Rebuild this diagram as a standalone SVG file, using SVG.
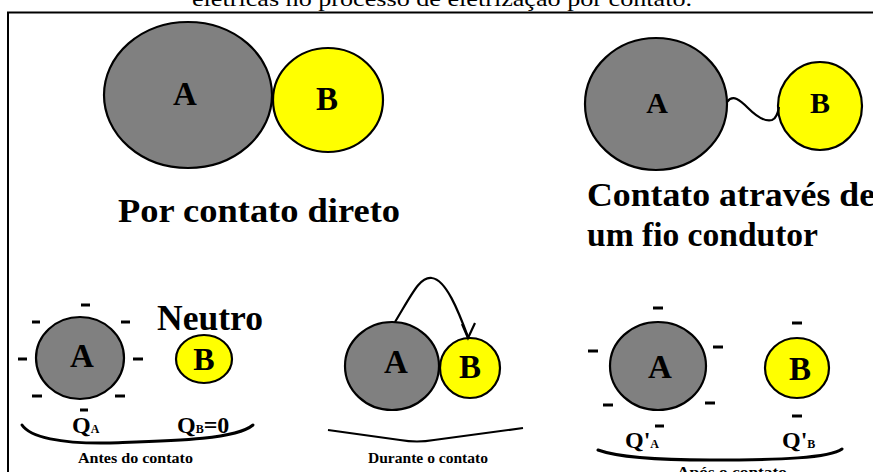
<svg xmlns="http://www.w3.org/2000/svg" width="873" height="472" viewBox="0 0 873 472">
<style>
.a{fill:#808080;stroke:#000;stroke-width:2.2}
.b{fill:#ffff00;stroke:#000;stroke-width:2.2}
.t{font-family:"Liberation Serif","Times New Roman",serif;font-weight:bold;fill:#000}
.m{stroke:#000;stroke-width:3;fill:none}
.c{fill:none;stroke:#000;stroke-width:3;stroke-linecap:round}
</style>
<rect width="873" height="472" fill="#fff"/>
<text x="192" y="6" font-family="Liberation Serif, serif" font-size="22" textLength="500" lengthAdjust="spacingAndGlyphs">elétricas no processo de eletrização por contato.</text>
<path d="M8,472 V12.5 H873" fill="none" stroke="#000" stroke-width="2"/>

<g id="direct">
<g id="A1"><ellipse class="a" cx="188" cy="95" rx="84" ry="73"/><text class="t" x="185" y="105" font-size="33" text-anchor="middle">A</text></g>
<g id="B1"><ellipse class="b" cx="328" cy="100" rx="55" ry="52"/><text class="t" x="327" y="110" font-size="33" text-anchor="middle">B</text></g>
<text class="t" x="118" y="222" font-size="33" textLength="282" lengthAdjust="spacingAndGlyphs">Por contato direto</text>
</g>

<g id="wire-contact">
<g id="A2"><ellipse class="a" cx="656" cy="104" rx="71" ry="66"/><text class="t" x="657" y="113" font-size="30" text-anchor="middle">A</text></g>
<g id="B2"><ellipse class="b" cx="820" cy="106" rx="42" ry="44"/><text class="t" x="820" y="113" font-size="30" text-anchor="middle">B</text></g>
<text class="t" x="587" y="206" font-size="34" textLength="288" lengthAdjust="spacingAndGlyphs">Contato através de</text>
<text class="t" x="587" y="246" font-size="34" textLength="231" lengthAdjust="spacingAndGlyphs">um fio condutor</text>
</g>

<g id="before">
<g id="A3"><ellipse class="a" cx="80" cy="358" rx="44" ry="41"/><text class="t" x="82" y="367" font-size="33" text-anchor="middle">A</text></g>
<g id="B3"><ellipse class="b" cx="204" cy="359" rx="28" ry="24"/><text class="t" x="204" y="370" font-size="32" text-anchor="middle">B</text></g>
<g class="m">
<path d="M81,305 h9"/><path d="M32,322 h8"/><path d="M121,322 h9"/><path d="M18,359 h9"/><path d="M133,359 h10"/><path d="M32,396 h10"/><path d="M115,396 h10"/><path d="M80,410 h8"/>
</g>
<text class="t" x="157" y="330" font-size="35" textLength="106" lengthAdjust="spacingAndGlyphs">Neutro</text>
<text class="t" x="72" y="433" font-size="24">Q<tspan font-size="12">A</tspan></text>
<text class="t" x="177" y="433" font-size="24">Q<tspan font-size="12">B</tspan>=0</text>
<path class="c" d="M22,425 C30,437 60,444 110,443 C170,441 235,440 253,425"/>
<text class="t" x="78" y="463" font-size="14" textLength="115" lengthAdjust="spacingAndGlyphs">Antes do contato</text>
</g>

<g id="during">
<g id="A4"><ellipse class="a" cx="392" cy="366" rx="47" ry="44"/><text class="t" x="396" y="373" font-size="33" text-anchor="middle">A</text></g>
<g id="B4"><ellipse class="b" cx="470" cy="368" rx="30" ry="30"/><text class="t" x="470" y="378" font-size="33" text-anchor="middle">B</text></g>
<path d="M328,430 L400,440 Q417,443 434,440 L523,428" fill="none" stroke="#000" stroke-width="2.2"/>
<text class="t" x="368" y="463" font-size="14" textLength="120" lengthAdjust="spacingAndGlyphs">Durante o contato</text>
</g>

<g id="after">
<g id="A5"><ellipse class="a" cx="658" cy="366" rx="48" ry="44"/><text class="t" x="660" y="378" font-size="33" text-anchor="middle">A</text></g>
<g id="B5"><ellipse class="b" cx="797" cy="368" rx="32" ry="30"/><text class="t" x="800" y="380" font-size="33" text-anchor="middle">B</text></g>
<g class="m">
<path d="M653,308 h10"/><path d="M588,351 h10"/><path d="M713,347 h10"/><path d="M603,405 h10"/><path d="M705,403 h10"/><path d="M655,426 h9"/><path d="M792,323 h10"/><path d="M792,416 h10"/>
</g>
<text class="t" x="625" y="448" font-size="24">Q'<tspan font-size="12">A</tspan></text>
<text class="t" x="782" y="448" font-size="24">Q'<tspan font-size="12">B</tspan></text>
<path class="c" d="M598,450 C620,458 660,460 710,460 C780,460 830,458 842,449"/>
<text class="t" x="677" y="477" font-size="15" textLength="110" lengthAdjust="spacingAndGlyphs">Após o contato</text>
</g>

<g id="connectors" fill="none" stroke="#000" stroke-width="2.2">
<path d="M727,102 C733,94 740,100 748,108 C757,117 765,122 772,120 C777,118 778,112 779,107"/>
<path d="M395,322 C412,294 420,276 432,278 C446,280 458,310 468,337"/>
<path d="M462,324 L468,338 L475,323"/>
</g>
</svg>
